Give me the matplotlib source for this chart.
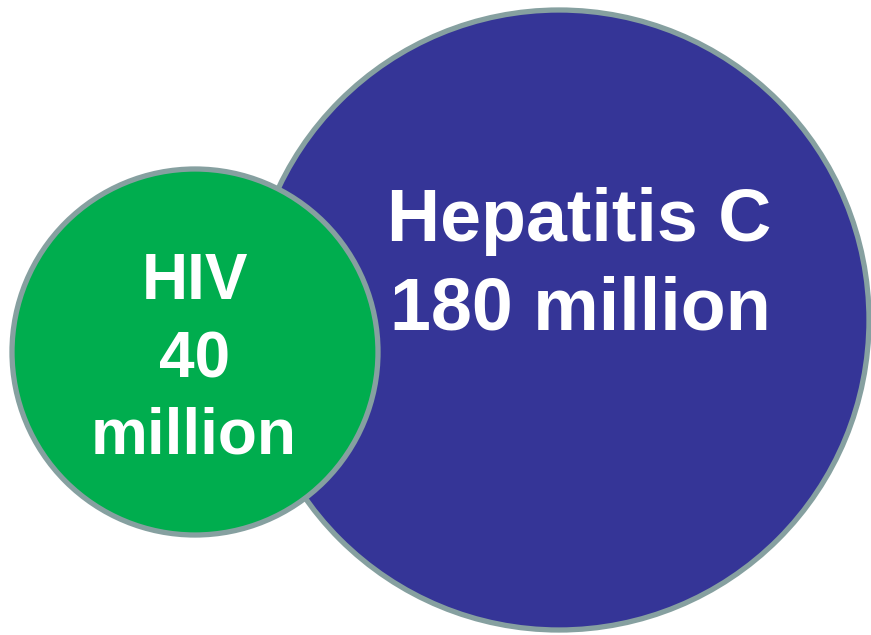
import matplotlib
matplotlib.use("Agg")
import matplotlib.pyplot as plt
from matplotlib.patches import Circle

# Data
names = ["Hepatitis C", "HIV"]
values = [180, 40]
units = ["million", "million"]
colors = ["#353597", "#00AD4E"]

# Layout (pixels)
centers = [(559, 320), (195, 352)]
radii = [310, 183]
edge = "#86A0A0"

fig = plt.figure(figsize=(8.71, 6.35), dpi=100)
ax = fig.add_axes([0, 0, 1, 1])
ax.set_xlim(0, 871)
ax.set_ylim(635, 0)
ax.set_aspect("equal")
ax.axis("off")

for (cx, cy), r, c in zip(centers, radii, colors):
    ax.add_patch(Circle((cx, cy), r, facecolor=c, edgecolor=edge, lw=3.8, zorder=2))

font = dict(family=["Liberation Sans", "DejaVu Sans"], weight="bold", color="white",
            ha="center", va="baseline", zorder=5)

# Hepatitis C
ax.text(579, 241, names[0], fontsize=53, **font)
ax.text(580, 330, f"{values[0]} {units[0]}", fontsize=53, **font)

# HIV
ax.text(195, 299, names[1], fontsize=46, **font)
ax.text(195, 377, f"{values[1]}", fontsize=46, **font)
ax.text(194, 453, units[1], fontsize=46, **font)

fig.savefig("out.png", dpi=100)
